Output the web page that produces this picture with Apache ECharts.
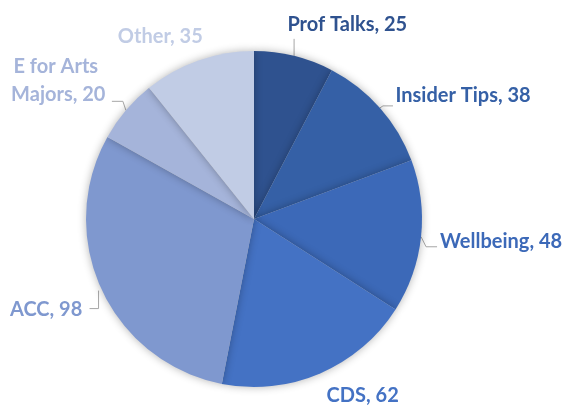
<!DOCTYPE html>
<html><head><meta charset="utf-8">
<script src="https://cdn.jsdelivr.net/npm/echarts@6/dist/echarts.min.js"></script>
<style>html,body{margin:0;padding:0;background:#fff}#c{width:571px;height:406px}</style>
</head><body><div id="c"></div>
<script>
const categories = ['Prof Talks', 'Insider Tips', 'Wellbeing', 'CDS', 'ACC', 'E for Arts Majors', 'Other'];
const values = [25, 38, 48, 62, 98, 20, 35];
const colors = ['#2F528F', '#3560A6', '#3C69B8', '#4472C4', '#7F98CF', '#A5B4DA', '#C1CCE5'];

// per-label line lengths and nudges (style only)
const lineLen  = [18, 14, 8, 24, 8, 10, 20];
const lineLen2 = [0, 0, 6, 0, 7, 5, 0];
const nudge = [[-16, -14], [0, -3], [0, 4], [-8, 0], [0, 17], [-50, -23], [16, -5]];
// leader line shapes, relative to the slice edge point
const leader = [
  [[0, 0], [0, -17]],
  [[0, 0], [3, -2], [13, -2]],
  [[0, 0], [5, 10], [16, 10]],
  null,
  [[-3, 1], [-3, 19], [-12, 19]],
  [[0, 0], [-3, -9], [-14, -9]],
  null
];

const CX = 254, CY = 219, R = 168;
const total = values.reduce((a, b) => a + b, 0);

const chart = echarts.init(document.getElementById('c'));
chart.setOption({
  animation: false,
  series: [{
    type: 'pie',
    center: [CX, CY],
    radius: [0, R],
    startAngle: 90,
    clockwise: true,
    avoidLabelOverlap: false,
    data: categories.map((n, i) => ({
      name: n, value: values[i],
      itemStyle: { color: colors[i] },
      label: Object.assign({ color: colors[i] }, n === 'E for Arts Majors' ? { width: 104, overflow: 'break', lineHeight: 28 } : {}),
      labelLine: { show: leader[i] !== null, length: lineLen[i], length2: lineLen2[i] }
    })),
    itemStyle: { shadowBlur: 8, shadowColor: 'rgba(0,0,0,0.3)', borderWidth: 0 },
    label: {
      show: true, position: 'outside',
      formatter: p => p.name + ', ' + p.value,
      fontFamily: 'Lato', fontWeight: 'bold', fontSize: 20
    },
    labelLine: { show: true, lineStyle: { color: '#A6A6A6', width: 1 } },
    labelLayout: p => {
      const i = p.dataIndex;
      const r = { dx: nudge[i][0], dy: nudge[i][1] };
      if (i === 5) r.align = 'center';
      if (leader[i]) {
        let before = 0;
        for (let k = 0; k < i; k++) before += values[k];
        const mid = (before + values[i] / 2) / total * Math.PI * 2;
        const e = [CX + R * Math.sin(mid), CY - R * Math.cos(mid)];
        r.labelLinePoints = leader[i].map(q => [e[0] + q[0], e[1] + q[1]]);
      }
      return r;
    }
  }]
});
</script></body></html>
